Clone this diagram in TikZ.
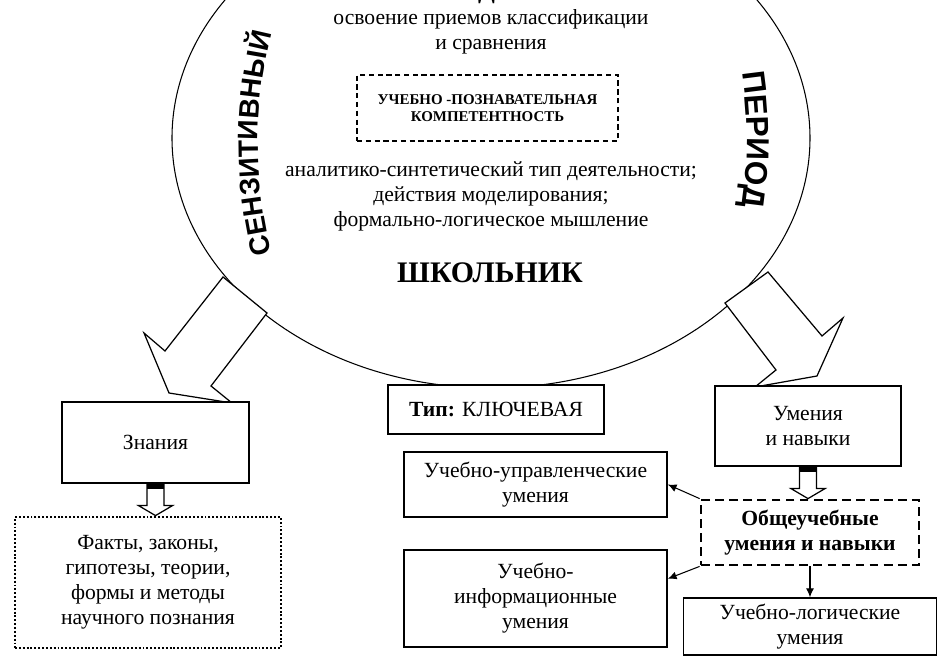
\documentclass[tikz,border=0pt]{standalone}
\usepackage{fontspec}
\setmainfont{Liberation Serif}
\newfontfamily\sansfam{Liberation Sans}
\usepackage{tikz}
\usetikzlibrary{arrows.meta}
\usetikzlibrary{calc}
\usetikzlibrary{decorations.text}
\newlength\unitpx
\setlength\unitpx{0.02cm}
\begin{document}
\begin{tikzpicture}
[x=0.02cm,y=0.02cm,
  textdecorate/.style={font=\fontsize{12.3}{14.2}\selectfont,align=center},
  boxdecorate/.style={draw,line width=1.6pt,fill=white,inner sep=0pt,textdecorate},
  thinboxdecorate/.style={draw,line width=0.9pt,fill=white,inner sep=0pt,textdecorate},
  dashboxdecorate/.style={draw,line width=1.6pt,dash pattern=on 5pt off 3pt,fill=white,inner sep=0pt,textdecorate},
  dotboxdecorate/.style={draw,line width=1.6pt,dash pattern=on 1.1pt off 1.1pt,inner sep=0pt,textdecorate},
  linedecorate/.style={-{Latex[length=5pt,width=4.5pt]},line width=0.6pt},
  blockdecorate/.style={line width=0.7pt,fill=white,line join=miter}]
\useasboundingbox (0,0) rectangle (948,-669);
%% the oval
\draw[line width=0.6pt] (491,-138) ellipse [x radius=319, y radius=250];
\node (cutletter) at (486.5,1) [anchor=base,font=\bfseries\fontsize{14}{14}\selectfont] {Д};
\node (receptions) at (491,-31.5) [textdecorate] {освоение приемов классификации\\и сравнения};
\node (competence) at (487.5,-108) [draw,line width=0.6pt,dash pattern=on 3pt off 2pt,
  minimum width=261\unitpx,minimum height=66\unitpx,align=center,
  font=\bfseries\fontsize{8.5}{9.6}\selectfont] {УЧЕБНО -ПОЗНАВАТЕЛЬНАЯ\\КОМПЕТЕНТНОСТЬ};
\node (activity) at (491,-196) [textdecorate] {аналитико-синтетический тип деятельности;\\действия моделирования;\\формально-логическое мышление};
\node (pupil) at (490,-273) [font=\bfseries\fontsize{17}{17}\selectfont] {ШКОЛЬНИК};
%% words along the oval
\path[decorate,decoration={text along path,text align=center,
  text={|\sansfam\bfseries\fontsize{16}{16}\selectfont|СЕНЗИТИВНЫЙ}}]
  (708,-143) ++(200:450) arc [start angle=200, end angle=160, radius=450];
\path[decorate,decoration={text along path,text align=center,
  text={|\sansfam\bfseries\fontsize{18}{18}\selectfont|ПЕРИОД}}]
  (297,-140) ++(18:450) arc [start angle=18, end angle=-18, radius=450];
%% block arrows out of the oval
\draw[blockdecorate] (223,-277) -- (165,-351) -- (144,-333) -- (169,-393)
  -- (232,-403) -- (211,-386) -- (267,-313) -- cycle;
\draw[blockdecorate] (768,-272) -- (725,-303) -- (776,-370) -- (755,-387)
  -- (817,-376) -- (843,-318) -- (822,-336) -- cycle;
%% boxes
\node (knowledge) at (155.5,-442.5) [boxdecorate,minimum width=187\unitpx,minimum height=81\unitpx] {Знания};
\node (facts) at (148,-582.5) [dotboxdecorate,minimum width=266\unitpx,minimum height=131\unitpx] {Факты, законы,\\гипотезы, теории,\\формы и методы\\научного познания};
\node (type) at (496,-409.5) [boxdecorate,minimum width=216\unitpx,minimum height=49\unitpx] {\textbf{Тип:} КЛЮЧЕВАЯ};
\node (skills) at (808,-426) [boxdecorate,minimum width=186\unitpx,minimum height=80\unitpx] {Умения\\и навыки};
\node (managerial) at (535.5,-484.5) [thinboxdecorate,minimum width=263\unitpx,minimum height=65\unitpx] {Учебно-управленческие\\умения};
\node (informational) at (535.5,-598.5) [thinboxdecorate,minimum width=263\unitpx,minimum height=97\unitpx] {Учебно-\\информационные\\умения};
\node (general) at (810,-532.5) [dashboxdecorate,minimum width=218\unitpx,minimum height=65\unitpx,font=\bfseries\fontsize{12.3}{14.2}\selectfont] {Общеучебные\\умения и навыки};
\node (logical) at (810,-626.5) [thinboxdecorate,minimum width=253\unitpx,minimum height=57\unitpx] {Учебно-логические\\умения};
\coordinate (infoport) at ($(informational.north east)!0.3!(informational.south east)$);
%% hollow arrows
\foreach \fromnode/\tonode in {knowledge/facts, skills/general}
{
  \draw[blockdecorate] let \p1=(\fromnode.south), \p2=(\tonode.north) in
    (\x1-0.17cm,\y1) -- (\x1-0.17cm,\y2+0.2cm) -- (\x1-0.34cm,\y2+0.2cm) -- (\x1,\y2)
    -- (\x1+0.34cm,\y2+0.2cm) -- (\x1+0.17cm,\y2+0.2cm) -- (\x1+0.17cm,\y1) -- cycle;
  \fill let \p1=(\fromnode.south) in (\x1-0.17cm,\y1) rectangle (\x1+0.17cm,\y1-0.1cm);
}
%% connectors
\foreach \startnode/\endnode in {general.north west/managerial.east,
  general.south west/infoport, general.south/logical.north}
{
  \draw[linedecorate] (\startnode) -- (\endnode);
}
\end{tikzpicture}
\end{document}
